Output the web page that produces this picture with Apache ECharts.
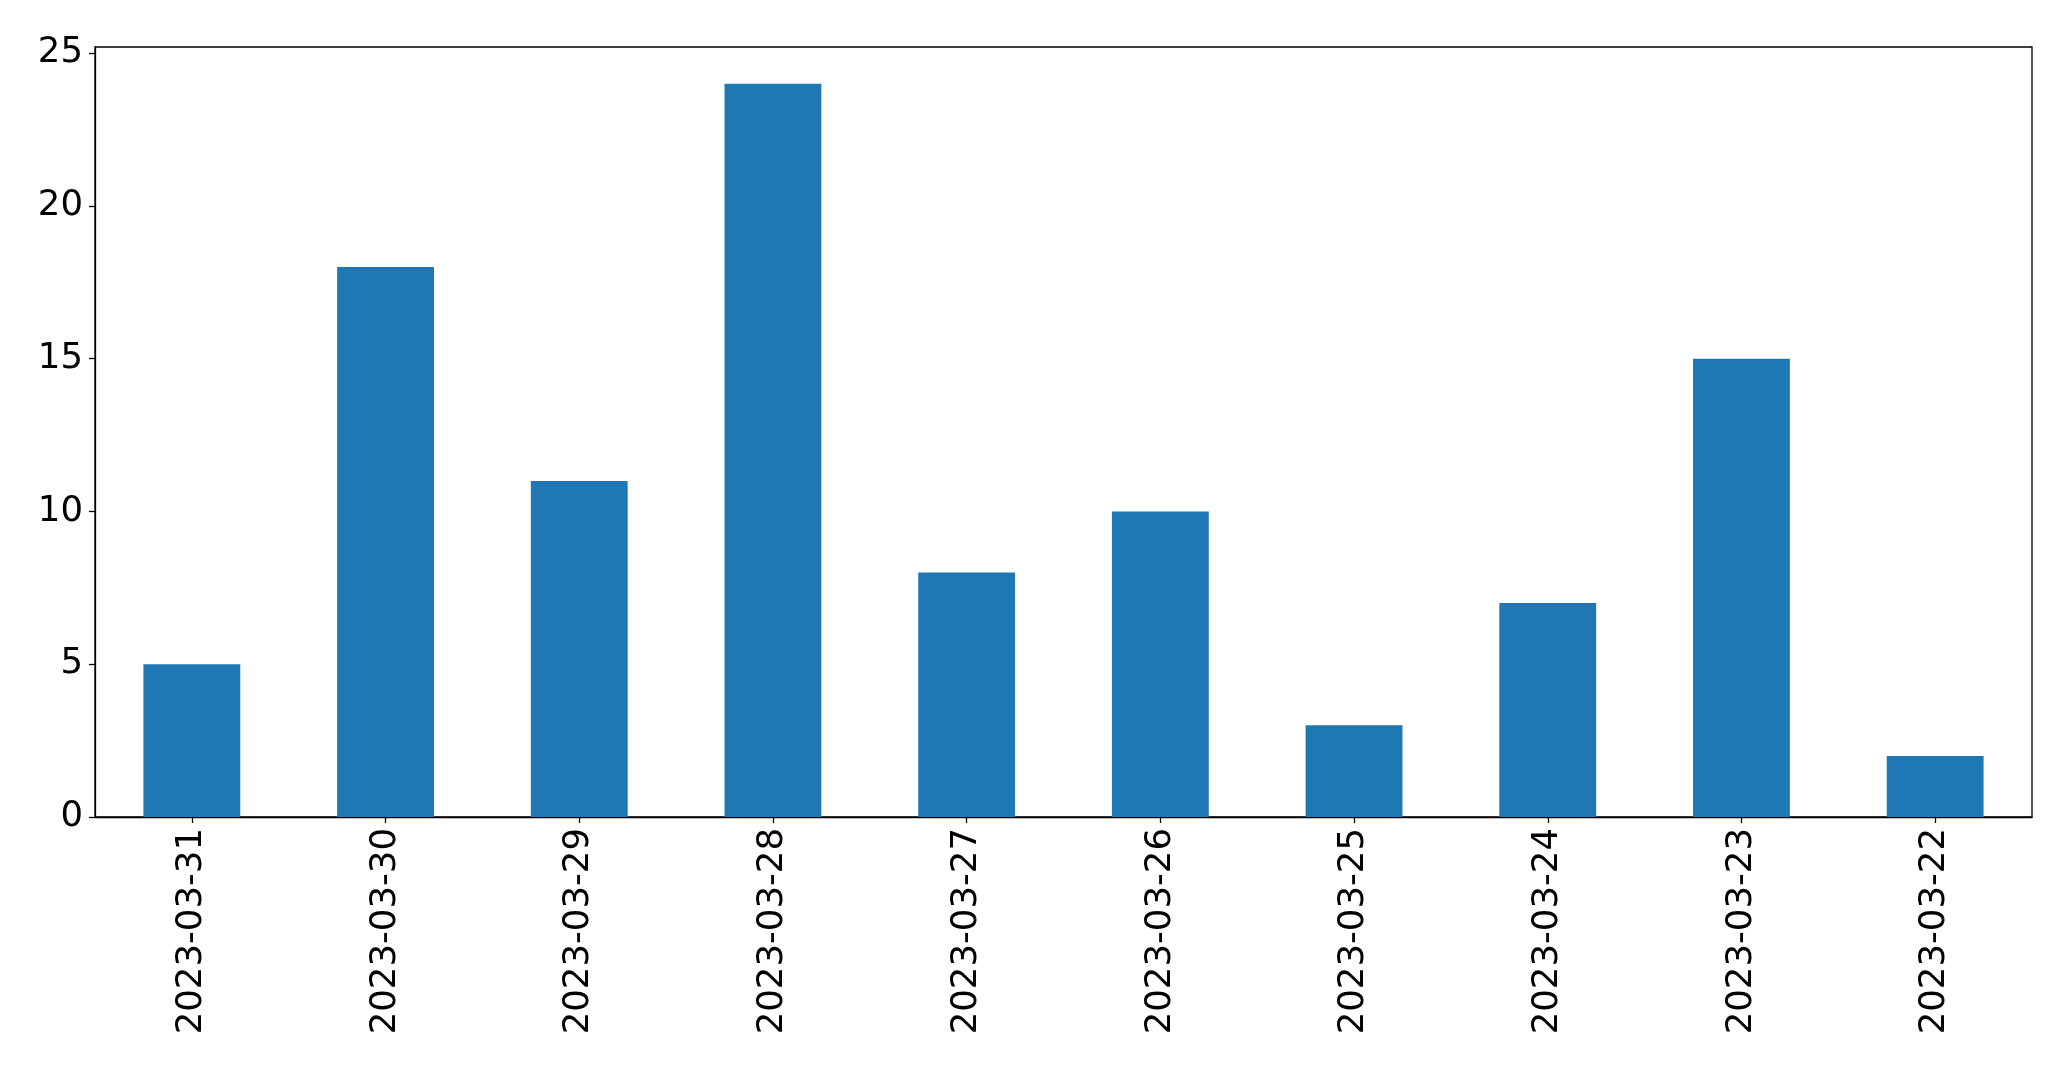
<!DOCTYPE html>
<html><head><meta charset="utf-8">
<script src="https://cdn.jsdelivr.net/npm/echarts@6/dist/echarts.min.js"></script>
<style>html,body{margin:0;padding:0;background:#fff}#c{width:2071px;height:1069px}</style>
</head><body><div id="c"></div>
<script>
const categories = ['2023-03-31','2023-03-30','2023-03-29','2023-03-28','2023-03-27','2023-03-26','2023-03-25','2023-03-24','2023-03-23','2023-03-22'];
const values = [5, 18, 11, 24, 8, 10, 3, 7, 15, 2];
const yTicks = [0, 5, 10, 15, 20, 25];

const chart = echarts.init(document.getElementById('c'), null, {renderer:'canvas'});
const font = 'DejaVu Sans';
chart.setOption({
  animation: false,
  backgroundColor: '#fff',
  grid: {left: 95, right: 39, top: 47, bottom: 252, show: true, borderColor: '#000', borderWidth: 1.3, backgroundColor: 'transparent'},
  xAxis: {
    type: 'category', data: categories, boundaryGap: true,
    axisLine: {show: true, lineStyle: {color: '#000', width: 1.3}},
    axisTick: {show: true, alignWithLabel: true, length: 6, lineStyle: {color: '#000', width: 1.3}},
    axisLabel: {rotate: 90, color: '#000', fontSize: 35.5, fontFamily: font, margin: 11, interval: 0},
    splitLine: {show: false}
  },
  yAxis: {
    type: 'value', min: 0, max: 25.2, interval: 5,
    axisLine: {show: true, lineStyle: {color: '#000', width: 1.3}},
    axisTick: {show: true, length: 6, lineStyle: {color: '#000', width: 1.3}},
    axisLabel: {color: '#000', fontSize: 35.5, fontFamily: font, margin: 12,
      formatter: v => yTicks.includes(v) ? String(v) : '', showMaxLabel: false},
    splitLine: {show: false}
  },
  series: [{type: 'bar', data: values, barWidth: '50%', itemStyle: {color: '#1f77b4'}}]
});
</script></body></html>
